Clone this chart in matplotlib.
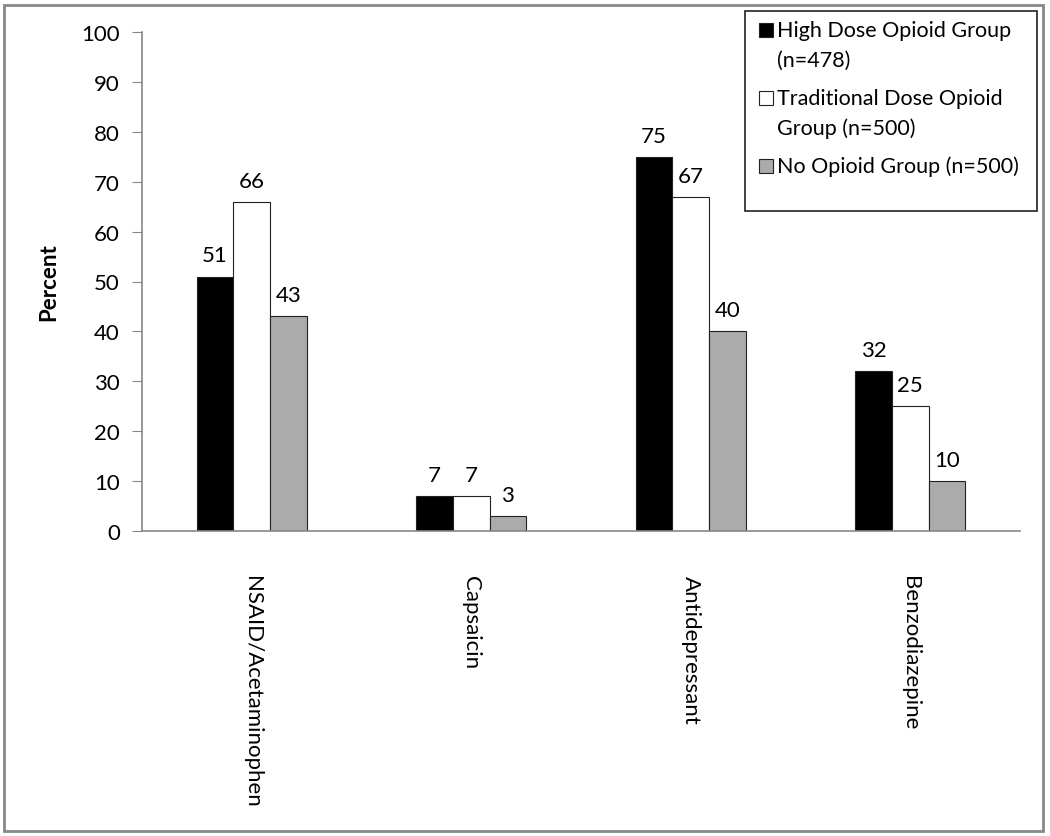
import numpy as np
import matplotlib.pyplot as plt
from matplotlib.patches import Rectangle

categories = ['NSAID/Acetaminophen', 'Capsaicin', 'Antidepressant', 'Benzodiazepine']
series_names = ['High Dose Opioid Group\n(n=478)',
                'Traditional Dose Opioid\nGroup (n=500)',
                'No Opioid Group (n=500)']
high_dose = [51, 7, 75, 32]
traditional_dose = [66, 7, 67, 25]
no_opioid = [43, 3, 40, 10]

colors = ['#000000', '#ffffff', '#ababab']
W, H = 1050, 837
fs = 16

plt.rcParams['font.family'] = ['Lato', 'DejaVu Sans']

fig = plt.figure(figsize=(W / 100, H / 100), dpi=100)
ax = fig.add_axes([142 / W, 1 - 532 / H, (1020 - 142) / W, (532 - 33) / H])

x = np.arange(len(categories))
w = 1 / 6
for i, vals in enumerate([high_dose, traditional_dose, no_opioid]):
    bars = ax.bar(x + (i - 1) * w, vals, w, color=colors[i], edgecolor='#222222',
                  linewidth=0.8, zorder=2)
    for b, v in zip(bars, vals):
        ax.annotate(str(v), (b.get_x() + b.get_width() / 2, v), xytext=(0, 8),
                    textcoords='offset points', ha='center', va='bottom', fontsize=fs)

ax.set_xlim(-0.5, len(categories) - 0.5)
ax.set_ylim(0, 100)
ax.set_yticks(range(0, 101, 10))
ax.set_xticks(x)
ax.set_xticklabels(categories, rotation=270, fontsize=fs)
ax.tick_params(axis='x', length=0, pad=32)
ax.tick_params(axis='y', direction='out', length=7, color='#888888', labelsize=fs, pad=9)
for s in ['top', 'right']:
    ax.spines[s].set_visible(False)
for s in ['left', 'bottom']:
    ax.spines[s].set_color('#888888')
    ax.spines[s].set_linewidth(1.2)
ax.set_ylabel('Percent', fontsize=fs, fontweight='bold', labelpad=16)

# legend drawn by hand so the square sits on the first text line
for i, name in enumerate(series_names):
    yc = 31 + 68 * i
    fig.patches.append(Rectangle((759 / W, 1 - (yc + 7) / H), 14 / W, 14 / H,
                                 transform=fig.transFigure, facecolor=colors[i],
                                 edgecolor='#222222', linewidth=0.8))
    for j, line in enumerate(name.split('\n')):
        fig.text(777 / W, 1 - (yc + 30 * j) / H, line, fontsize=15.5,
                 ha='left', va='center')
fig.patches.append(Rectangle((745 / W, 1 - 212 / H), 292 / W, 200 / H,
                             transform=fig.transFigure, fill=False,
                             edgecolor='#222222', linewidth=1.2))
fig.patches.append(Rectangle((4 / W, 1 - 832 / H), 1039 / W, 826 / H,
                             transform=fig.transFigure, fill=False,
                             edgecolor='#888888', linewidth=2))

fig.savefig('out.png', dpi=100)
